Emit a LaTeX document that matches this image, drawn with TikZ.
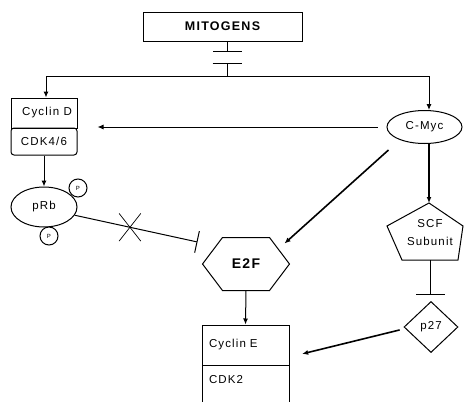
\documentclass[tikz,border=0pt]{standalone}
\usepackage{fontspec}
\setmainfont{Liberation Sans}[LetterSpace=10]
\usetikzlibrary{arrows.meta,shapes.geometric,shapes.misc,calc}

\begin{document}
\begin{tikzpicture}[x=1pt,y=-1pt,>={Latex[length=6pt,width=5pt]},line width=1pt,
  every node/.style={font=\fontsize{11.5}{13}\selectfont},
  box/.style={draw,rectangle,minimum width=66pt,minimum height=30pt,inner sep=0pt},
  blob/.style={draw,ellipse,inner sep=0pt},
  phos/.style={draw,circle,fill=white,minimum size=18pt,inner sep=0pt,font=\fontsize{6}{6}\selectfont},
  heavy/.style={->,line width=1.6pt},
  inhib/.style={-{Bar[width=29pt,line width=1pt]}}]
  \useasboundingbox (0,0) rectangle (464,402);
  \clip (0,0) rectangle (464,402);
  % top: mitogens
  \node[box,minimum width=159pt,minimum height=29pt,font=\fontsize{12.5}{14}\selectfont\bfseries] (mit) at (222.5,26.5) {MITOGENS};
  \coordinate (block) at (227,52);
  \coordinate (relay) at (227,63);
  \coordinate (split) at (227,76);
  % left branch
  \node[box] (cycd) at (44,113) {\hspace*{6pt}Cyclin D};
  \node[box,minimum height=27pt,rounded corners=3pt] (cdk46) at (44,141.5) {CDK4/6};
  \node[blob,minimum width=66pt,minimum height=40pt] (prb) at (44,207) {pRb};
  \node[phos] (pa) at (78,188) {P};
  \node[phos] (pb) at (49,236) {P};
  % right branch
  \node[blob,minimum width=75pt,minimum height=33pt] (myc) at (424.5,127) {C-Myc};
  \node[align=center] (scf) at (430,233) {SCF\\[5pt]Subunit};
  \coordinate (s1) at (429,203);
  \coordinate (s2) at (463,226);
  \coordinate (s3) at (458,260);
  \coordinate (s4) at (402,260);
  \coordinate (s5) at (387,226);
  \draw (s1) -- (s2) -- (s3) -- (s4) -- (s5) -- cycle;
  \coordinate (scfbar) at (430,295);
  \node[draw,diamond,minimum width=54pt,minimum height=51pt,inner sep=0pt] (p27) at (431,327) {p27};
  % middle
  \node[minimum width=86pt,minimum height=52pt,inner sep=0pt,font=\fontsize{14}{16}\selectfont\bfseries] (e2f) at (246,264) {E2F};
  \draw (e2f.west) -- ($(e2f.north west)+(20,0)$) -- ($(e2f.north east)+(-20,0)$) -- (e2f.east)
    -- ($(e2f.south east)+(-20,0)$) -- ($(e2f.south west)+(20,0)$) -- cycle;
  \node[box,minimum width=87pt,minimum height=40pt,text width=73pt,align=left] (cyce) at (245.5,345) {Cyclin E};
  \node[box,minimum width=87pt,minimum height=50pt,text width=73pt,align=left,text depth=22pt] (cdk2) at (245.5,390) {CDK2};
  % connectors
  \draw[inhib] (block |- mit.south) -- (block);
  \draw[{Bar[width=29pt,line width=1pt]}-] (relay) -- (split);
  \draw[->] (split) -| ([xshift=2pt]cycd.north);
  \draw[->] (split) -| ([xshift=4.5pt]myc.north);
  \draw[->,shorten <=9pt,shorten >=20pt] (myc.west) -- (cycd.south east |- myc.west);
  \draw[->] (cdk46.south) -- (prb.north);
  \draw[-{Bar[width=22pt,line width=1pt]}] (prb.-15) -- ([shift={(-5,-22)}]e2f.west)
    node[pos=0.45,cross out,draw,line width=0.7pt,minimum width=21pt,minimum height=27pt] (xmark) {};
  \draw[heavy] ([shift={(-36,23)}]myc.center) -- ([shift={(-5,6)}]e2f.north east);
  \draw[heavy] (myc.south -| s1) -- (s1);
  \draw[inhib] ($(s3)!0.5!(s4)$) -- (scfbar);
  \draw[->] (e2f.south) -- (cyce.north);
  \draw[heavy,shorten <=4pt,shorten >=13pt] ([shift={(0,2)}]p27.west) -- ([shift={(0,12)}]cyce.east);
\end{tikzpicture}
\end{document}
